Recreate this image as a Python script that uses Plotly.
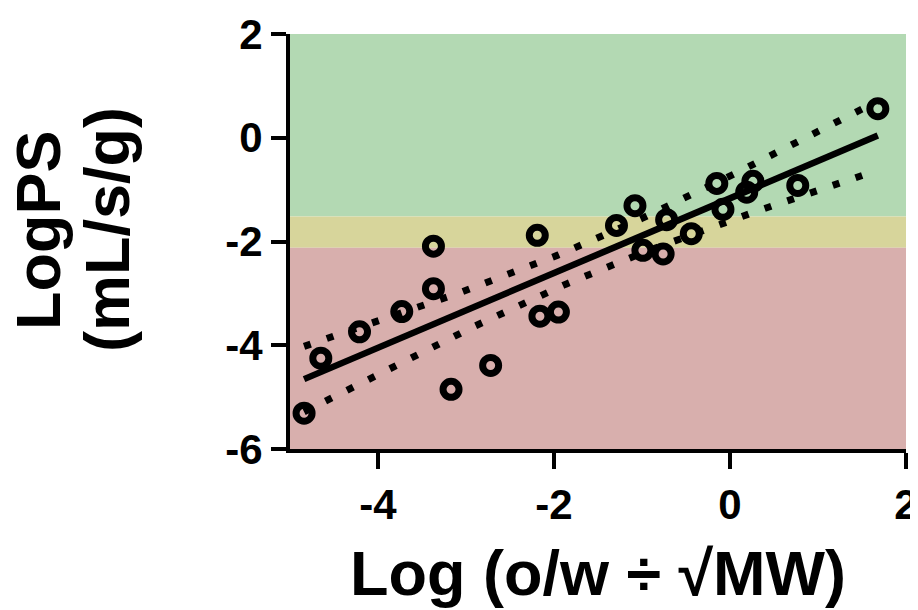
import numpy as np
import plotly.graph_objects as go

# ---- data ----
log_ow_mw = [-4.84, -4.65, -4.21, -3.73, -3.37, -3.37, -3.17, -2.72, -2.19, -2.16,
             -1.95, -1.29, -1.08, -0.99, -0.76, -0.72, -0.44, -0.15, -0.08, 0.19,
             0.26, 0.77, 1.68]
log_ps = [-5.31, -4.25, -3.74, -3.35, -2.91, -2.09, -4.85, -4.39, -1.88, -3.44,
          -3.36, -1.69, -1.31, -2.17, -2.24, -1.58, -1.85, -0.88, -1.38, -1.05,
          -0.84, -0.92, 0.56]
zone_bounds = [2.0, -1.52, -2.12, -6.0]          # green / yellow / red zones
zone_colors = ["#b3d9b3", "#d7d59b", "#d8afad"]
x_ticks = [-4, -2, 0, 2]
x_tick_text = ["-4", "-2", "0", "2"]
y_ticks = [-6, -4, -2, 0, 2]
y_tick_text = ["-6", "-4", "-2", "0", "2"]
x_range = [-5, 2]
y_range = [-6, 2]
t_crit = 2.080  # 95%, df = n-2 = 21

# ---- linear regression with 95% confidence band ----
x = np.array(log_ow_mw)
y = np.array(log_ps)
n = len(x)
slope, intercept = np.polyfit(x, y, 1)
resid = y - (slope * x + intercept)
s = np.sqrt(np.sum(resid ** 2) / (n - 2))
sxx = np.sum((x - x.mean()) ** 2)
xf = np.linspace(x.min(), x.max(), 200)
yf = slope * xf + intercept
half = t_crit * s * np.sqrt(1.0 / n + (xf - x.mean()) ** 2 / sxx)

fig = go.Figure()

for lo, hi, col in zip(zone_bounds[1:], zone_bounds[:-1], zone_colors):
    fig.add_shape(type="rect", xref="x", yref="y", x0=x_range[0], x1=x_range[1],
                  y0=lo, y1=hi, fillcolor=col, line=dict(width=0), layer="below")

band_line = dict(color="black", width=7, dash="7px,17px")
fig.add_trace(go.Scatter(x=xf, y=yf + half, mode="lines", line=band_line,
                         hoverinfo="skip", showlegend=False))
fig.add_trace(go.Scatter(x=xf, y=yf - half, mode="lines", line=band_line,
                         hoverinfo="skip", showlegend=False))
fig.add_trace(go.Scatter(x=xf, y=yf, mode="lines",
                         line=dict(color="black", width=6.5), showlegend=False))
fig.add_trace(go.Scatter(x=log_ow_mw, y=log_ps, mode="markers",
                         marker=dict(symbol="circle-open", size=16, color="black",
                                     line=dict(width=7, color="black")),
                         showlegend=False))

font_main = dict(family="Liberation Sans, Arial, sans-serif", color="black", weight="bold")

# page body adds an 8px offset, so margins are reduced accordingly
fig.update_layout(
    width=918, height=610,
    margin=dict(l=282, r=20, t=26, b=169),
    paper_bgcolor="white", plot_bgcolor="white",
    xaxis=dict(range=x_range, tickvals=x_ticks, ticktext=x_tick_text,
               showgrid=False, zeroline=False, automargin=False,
               showline=True, linecolor="black", linewidth=4,
               ticks="outside", ticklen=16, tickwidth=3.5, tickcolor="black",
               tickfont=dict(size=42, **font_main)),
    yaxis=dict(range=y_range, tickvals=y_ticks, ticktext=y_tick_text,
               showgrid=False, zeroline=False, automargin=False,
               showline=True, linecolor="black", linewidth=4,
               ticks="outside", ticklen=15, tickwidth=3.5, tickcolor="black",
               tickfont=dict(size=42, **font_main)),
    annotations=[
        dict(text="Log (o/w ÷ √MW)", xref="paper", yref="paper", x=0.5, y=-0.298,
             xanchor="center", yanchor="middle", showarrow=False,
             font=dict(size=63, **font_main)),
        dict(text="LogPS", xref="paper", yref="paper", x=-0.409, y=0.528,
             xanchor="center", yanchor="middle", textangle=-90, showarrow=False,
             font=dict(size=63, **font_main)),
        dict(text="(mL/s/g)", xref="paper", yref="paper", x=-0.297, y=0.528,
             xanchor="center", yanchor="middle", textangle=-90, showarrow=False,
             font=dict(size=63, **font_main)),
    ],
)

fig.write_html("out.html")
